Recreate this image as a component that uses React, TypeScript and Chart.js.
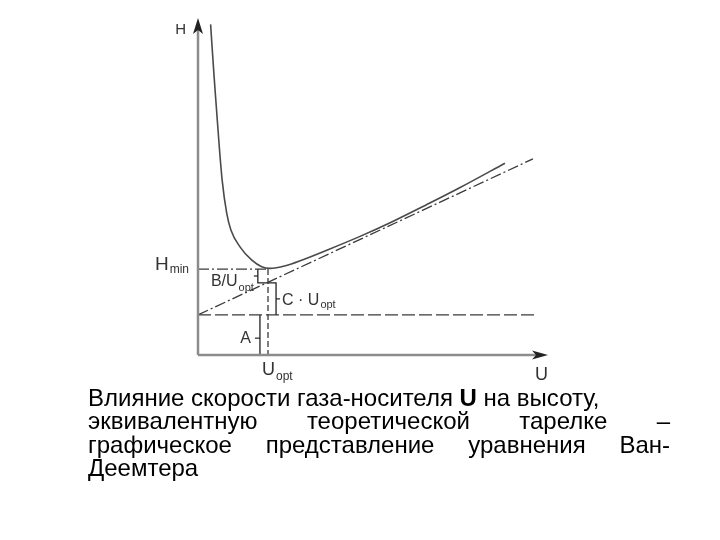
import React, { useEffect, useRef } from "react";
import { Chart, registerables } from "chart.js";

Chart.register(...registerables);

// Van Deemter curve H(U)
const curveU = [0.36, 0.46, 0.53, 0.6, 0.69, 0.82, 0.94, 1.2, 1.53, 1.82, 2.06, 2.5, 3.0, 3.68, 4.63, 5.58, 6.53, 7.49, 8.77];
const curveH = [9.81, 8.26, 7.27, 6.29, 5.19, 4.21, 3.71, 3.21, 2.82, 2.62, 2.57, 2.65, 2.83, 3.11, 3.52, 3.97, 4.46, 4.97, 5.69];

// asymptote A + C·U
const slopeU = [0, 9.57];
const slopeH = [1.19, 5.82];

// A level line
const aLineU = [0, 9.63];
const aLevel = 1.19;

// optimum
const uOpt = 2.0;
const hMin = 2.55;

// bracket marks
const bBottom = 2.14;
const bLeft = 1.71;
const cRight = 2.23;
const aLeft = 1.77;

const axisMax = [10, 10];

const FONT = '"Liberation Sans", Arial, Helvetica, sans-serif';

function pts(xs: number[], ys: number[]) {
  return xs.map((x, i) => ({ x, y: ys[i] }));
}

function lineDs(data: { x: number; y: number }[], color: string, width: number, dash: number[] = []) {
  return {
    data,
    showLine: true,
    borderColor: color,
    borderWidth: width,
    borderDash: dash,
    pointRadius: 0,
    fill: false,
    clip: false as const,
    tension: 0,
  };
}

const labelsPlugin = {
  id: "labels",
  afterDatasetsDraw(chart: any) {
    const ctx: CanvasRenderingContext2D = chart.ctx;
    const xs = chart.scales.x;
    const ys = chart.scales.y;
    const px = (v: number) => xs.getPixelForValue(v);
    const py = (v: number) => ys.getPixelForValue(v);
    ctx.save();

    // arrowheads
    ctx.fillStyle = "#222";
    const x0 = px(0), y0 = py(0);
    const yTop = py(axisMax[1]);
    const xEnd = px(axisMax[0]);
    ctx.beginPath();
    ctx.moveTo(x0, yTop);
    ctx.lineTo(x0 - 5, yTop + 16);
    ctx.lineTo(x0, yTop + 12);
    ctx.lineTo(x0 + 5, yTop + 16);
    ctx.closePath();
    ctx.fill();
    ctx.beginPath();
    ctx.moveTo(xEnd, y0);
    ctx.lineTo(xEnd - 16, y0 - 4.5);
    ctx.lineTo(xEnd - 12, y0);
    ctx.lineTo(xEnd - 16, y0 + 4.5);
    ctx.closePath();
    ctx.fill();

    ctx.fillStyle = "#333";
    ctx.textBaseline = "alphabetic";

    const sub = (main: string, s: string, x: number, y: number, mf: number, sf: number, dy: number, align: "left" | "right") => {
      ctx.font = `${mf}px ${FONT}`;
      const wm = ctx.measureText(main).width;
      ctx.font = `${sf}px ${FONT}`;
      const ws = ctx.measureText(s).width;
      const left = align === "left" ? x : x - wm - ws - 1;
      ctx.font = `${mf}px ${FONT}`;
      ctx.textAlign = "left";
      ctx.fillText(main, left, y);
      ctx.font = `${sf}px ${FONT}`;
      ctx.fillText(s, left + wm + 1, y + dy);
    };

    // H
    ctx.font = `15px ${FONT}`;
    ctx.textAlign = "right";
    ctx.fillText("H", x0 - 12, yTop + 16);
    // Hmin
    sub("H", "min", x0 - 9, py(hMin) + 1, 19, 12, 3, "right");
    // B/Uopt
    sub("B/U", "opt", px(bLeft) - 4, py(bBottom) + 3, 16, 11, 5, "right");
    // C·Uopt
    ctx.strokeStyle = "#222";
    ctx.lineWidth = 1.2;
    const cMid = (py(bBottom) + py(aLevel)) / 2;
    ctx.beginPath();
    ctx.moveTo(px(cRight), cMid);
    ctx.lineTo(px(cRight) + 4, cMid);
    ctx.stroke();
    sub("C \u00B7 U", "opt", px(cRight) + 6, cMid + 6, 16, 11, 3, "left");
    // A
    const aMid = py(0.5);
    ctx.beginPath();
    ctx.moveTo(px(aLeft) - 5, aMid);
    ctx.lineTo(px(aLeft), aMid);
    ctx.stroke();
    ctx.font = `16px ${FONT}`;
    ctx.textAlign = "right";
    ctx.fillText("A", px(aLeft) - 9, aMid + 5);
    // B tick
    const bMid = (py(hMin) + py(bBottom)) / 2;
    ctx.beginPath();
    ctx.moveTo(px(bLeft) - 4, bMid);
    ctx.lineTo(px(bLeft), bMid);
    ctx.stroke();
    // Uopt
    sub("U", "opt", px(uOpt) - 6, y0 + 20, 18, 12, 5, "left");
    // U
    ctx.font = `18px ${FONT}`;
    ctx.textAlign = "right";
    ctx.fillText("U", xEnd, y0 + 25);

    ctx.restore();
  },
};

export default function App() {
  const ref = useRef<HTMLCanvasElement>(null);
  useEffect(() => {
    if (!ref.current) return;
    const axisColor = "#8c8c8c";
    const dark = "#3a3a3a";
    const chart = new Chart(ref.current, {
      type: "scatter",
      data: {
        datasets: [
          lineDs([{ x: 0, y: 0 }, { x: 0, y: axisMax[1] - 0.3 }], axisColor, 2.5),
          lineDs([{ x: 0, y: 0 }, { x: axisMax[0] - 0.3, y: 0 }], axisColor, 2.5),
          lineDs(pts(aLineU, [aLevel, aLevel]), dark, 1.3, [13, 4]),
          lineDs(pts(slopeU, slopeH), dark, 1.3, [11, 3, 2, 3]),
          lineDs([{ x: 0, y: hMin }, { x: uOpt, y: hMin }], dark, 1.3, [11, 3, 2, 3]),
          lineDs([{ x: uOpt, y: hMin }, { x: uOpt, y: 0 }], dark, 1.3, [6, 3]),
          lineDs([{ x: uOpt, y: bBottom }, { x: bLeft, y: bBottom }, { x: bLeft, y: hMin }], "#222", 1.3),
          lineDs([{ x: uOpt, y: bBottom }, { x: cRight, y: bBottom }, { x: cRight, y: aLevel }], "#222", 1.3),
          lineDs([{ x: aLeft, y: aLevel }, { x: aLeft, y: 0 }], "#222", 1.3),
          {
            ...lineDs(pts(curveU, curveH), "#4a4a4a", 1.6),
            cubicInterpolationMode: "monotone" as const,
          },
        ],
      },
      options: {
        animation: false,
        responsive: false,
        events: [],
        layout: { padding: { left: 198, right: 172, top: 18, bottom: 185 } },
        plugins: { legend: { display: false }, tooltip: { enabled: false } },
        scales: {
          x: { type: "linear", min: 0, max: axisMax[0], display: false },
          y: { type: "linear", min: 0, max: axisMax[1], display: false },
        },
      },
      plugins: [labelsPlugin],
    });
    return () => chart.destroy();
  }, []);

  const capFont = `24px ${FONT}`;
  return (
    <div style={{ position: "absolute", left: 0, top: 0, width: 720, height: 540, background: "#fff" }}>
      <canvas ref={ref} width={720} height={540} style={{ display: "block", position: "absolute", left: 0, top: 0 }} />
      <div style={{ position: "absolute", left: 88, top: 386, width: 582, font: capFont, lineHeight: "23.4px", color: "#000", whiteSpace: "nowrap" }}>
        <div>Влияние скорости газа-носителя <b>U</b> на высоту,</div>
        <div style={{ textAlign: "justify", textAlignLast: "justify", whiteSpace: "normal" }}>эквивалентную теоретической тарелке –</div>
        <div style={{ textAlign: "justify", textAlignLast: "justify", whiteSpace: "normal" }}>графическое представление уравнения Ван-</div>
        <div>Деемтера</div>
      </div>
    </div>
  );
}
